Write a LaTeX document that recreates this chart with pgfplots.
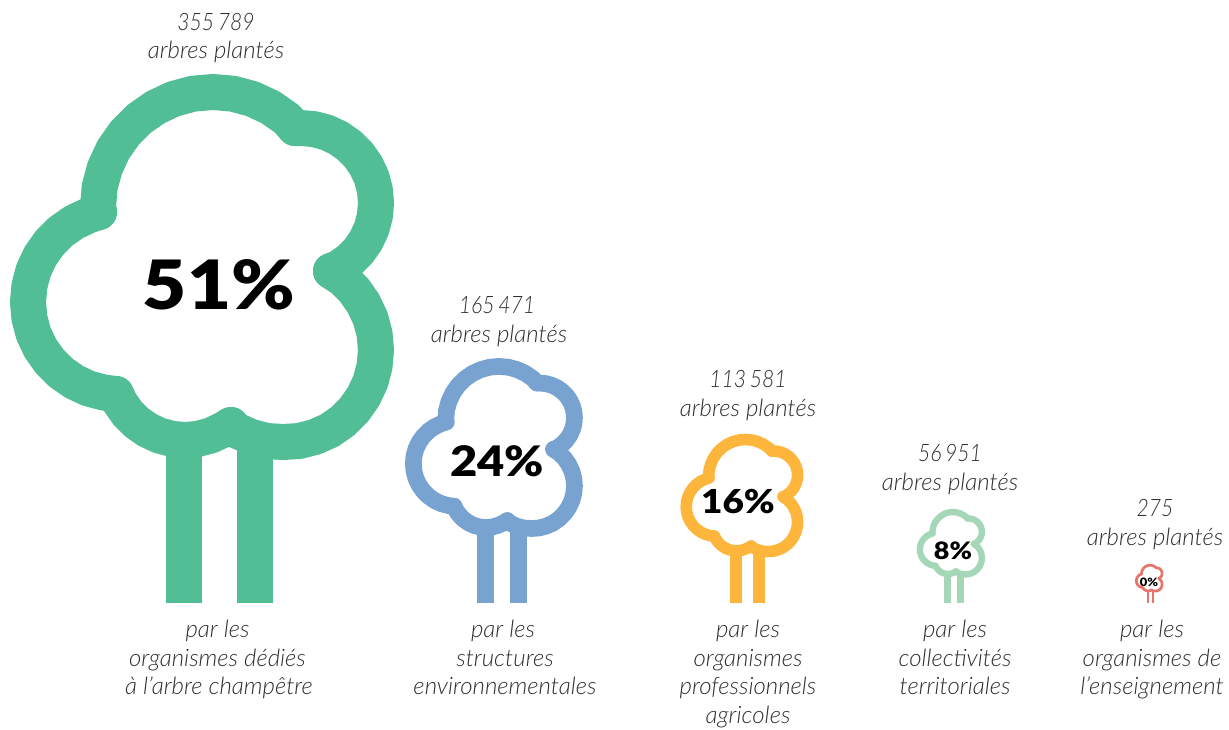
\documentclass[border=0pt]{standalone}
\usepackage{fontspec}
\usepackage{pgfplots}
\usepackage{pgfplotstable}
\pgfplotsset{compat=1.18}
\setmainfont{Lato}
\newfontfamily\lab{Lato Light Italic}
\newfontfamily\labn{Lato Light Italic}[FakeStretch=0.88]
\newfontfamily\pctf{Lato Black}[FakeStretch=1.12]
\definecolor{cA}{HTML}{51BE95}
\definecolor{cB}{HTML}{78A2CF}
\definecolor{cC}{HTML}{FDB53C}
\definecolor{cD}{HTML}{A5D6B7}
\definecolor{cE}{HTML}{E8736B}
\definecolor{txt}{HTML}{2E2E2E}
\pgfplotstableread{
x y
99 212
98 207
99.7 187
104.9 167.7
113.4 149.5
124.9 133.1
139.1 118.9
155.5 107.4
173.7 98.9
193 93.7
213 92
233 93.7
252.3 98.9
270.5 107.4
286.9 118.9
295 128
}\lobeA
\pgfplotstableread{
x y
295 128
301 128
314 129.1
326.7 132.5
338.5 138
349.2 145.6
358.5 154.8
366 165.5
371.5 177.4
374.9 190
376 203
374.9 216
371.5 228.7
366 240.5
358.5 251.2
349.2 260.5
338.5 268
331 271
}\lobeB
\pgfplotstableread{
x y
331 271
342.8 278.8
354.2 290.2
363.5 303.5
370.4 318.2
374.6 333.9
376 350
374.6 366.1
370.4 381.8
363.5 396.5
354.2 409.8
342.8 421.2
329.5 430.5
314.8 437
299.2 441
283 442
266.8 441
251.2 437
236.5 430.5
231 425
}\lobeC
\pgfplotstableread{
x y
231 425
222.5 430
210.7 435.5
198 438.9
185 440
172 438.9
159.3 435.5
147.5 430
136.8 422.5
127.5 413.2
120 402.5
116 394
}\lobeD
\pgfplotstableread{
x y
116 394
104 392.6
88.5 388.5
74 381.7
60.9 372.5
49.5 361.1
40.3 348
33.5 333.5
29.4 318
28 302
29.4 286
33.5 270.5
40.3 256
49.5 242.9
60.9 231.5
74 222.3
88.5 215.5
99 212
}\lobeE
\pgfplotstableread{
x y
184 603
184 445
}\trunkL
\pgfplotstableread{
x y
255 603
255 435
}\trunkR
\newcommand{\oneplot}[4]{\addplot[#3,line width=#4,line cap=round,line join=round,no markers] table[x expr={#1+#2*(\thisrow{x}-219.5)},y expr={603-#2*(603-\thisrow{y})}] }
\newcommand{\tree}[4]{%
\oneplot{#1}{#2}{#3}{#4} {\lobeA};
\oneplot{#1}{#2}{#3}{#4} {\lobeB};
\oneplot{#1}{#2}{#3}{#4} {\lobeC};
\oneplot{#1}{#2}{#3}{#4} {\lobeD};
\oneplot{#1}{#2}{#3}{#4} {\lobeE};
\addplot[#3,line width=#4,line cap=butt,no markers] table[x expr={#1+#2*(\thisrow{x}-219.5)},y expr={603-#2*(603-\thisrow{y})}] {\trunkL};
\addplot[#3,line width=#4,line cap=butt,no markers] table[x expr={#1+#2*(\thisrow{x}-219.5)},y expr={603-#2*(603-\thisrow{y})}] {\trunkR};
}
\newcommand{\tl}[3]{\node[anchor=base,inner sep=0pt,text=txt,font=\lab\fontsize{24}{24}\selectfont] at (axis cs:#1,#2) {#3};}
\newcommand{\tn}[3]{\node[anchor=base,inner sep=0pt,text=txt,font=\labn\fontsize{24}{24}\selectfont] at (axis cs:#1,#2) {#3};}
\newcommand{\pc}[4]{\node[anchor=base,inner sep=0pt,text=black,font=\pctf\fontsize{#4}{#4}\selectfont] at (axis cs:#1,#2) {#3};}
\begin{document}
\begin{tikzpicture}
\path[use as bounding box] (0,0) rectangle (1229pt,729pt);
\begin{axis}[at={(0,0)},anchor=south west,scale only axis,width=1229pt,height=729pt,
 xmin=0,xmax=1229,ymin=0,ymax=729,y dir=reverse,hide axis,clip=false]
\tree{219.5}{1}{cA}{36pt}
\tree{502}{0.463}{cB}{16.7pt}
\tree{747.5}{0.32}{cC}{11.6pt}
\tree{954}{0.178}{cD}{6.4pt}
\tree{1150.5}{0.074}{cE}{2.7pt}
\pc{219}{309}{51\%}{68}
\pc{497}{476}{24\%}{42}
\pc{738}{513}{16\%}{33}
\pc{953}{559}{8\%}{24}
\pc{1149}{586}{0\%}{11.5}
\tn{216}{30}{355\hspace{.15em}789}
\tl{216}{58}{arbres plantés}
\tn{497}{313}{165\hspace{.15em}471}
\tl{499}{342}{arbres plantés}
\tn{748}{387}{113\hspace{.15em}581}
\tl{748}{416}{arbres plantés}
\tn{950}{461}{56\hspace{.15em}951}
\tl{950}{490}{arbres plantés}
\tn{1155}{516}{275}
\tl{1155}{545}{arbres plantés}
\tl{217.5}{637}{par les}
\tl{217.5}{666}{organismes dédiés}
\tl{219}{694}{à l’arbre champêtre}
\tl{503}{637}{par les}
\tl{505}{666}{structures}
\tl{505}{694}{environnementales}
\tl{748}{637}{par les}
\tl{748}{666}{organismes}
\tl{748}{694}{professionnels}
\tl{748}{723}{agricoles}
\tl{955}{637}{par les}
\tl{955}{666}{collectivités}
\tl{955}{694}{territoriales}
\tl{1152}{637}{par les}
\tl{1152}{666}{organismes de}
\tl{1152}{694}{l’enseignement}
\end{axis}
\end{tikzpicture}
\end{document}
